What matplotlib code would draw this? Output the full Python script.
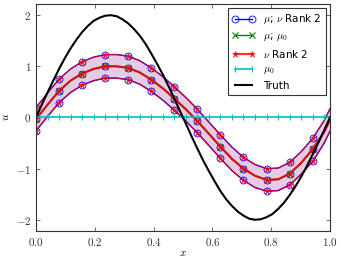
import numpy as np
import matplotlib
matplotlib.use('Agg')
import matplotlib.pyplot as plt

plt.rcParams['mathtext.fontset'] = 'cm'
plt.rcParams['font.family'] = 'DejaVu Sans'

# grid: every other point of a 52-point grid, plus the end point
x = np.append(np.arange(26) * 2 / 51, 1.0)
x_fine = np.linspace(0, 1, 52)

truth = [0.0, 0.25, 0.49, 0.72, 0.95, 1.16, 1.35, 1.52, 1.67, 1.79, 1.89, 1.95, 1.99,
         2.00, 1.98, 1.92, 1.84, 1.73, 1.60, 1.44, 1.25, 1.05, 0.84, 0.61, 0.37, 0.12,
         -0.12, -0.37, -0.61, -0.84, -1.05, -1.25, -1.44, -1.60, -1.73, -1.84, -1.92,
         -1.98, -2.00, -1.99, -1.95, -1.89, -1.79, -1.67, -1.52, -1.35, -1.16, -0.95,
         -0.72, -0.49, -0.25, 0.0]

mean = [-0.03, 0.25, 0.52, 0.72, 0.86, 0.95, 1.00, 1.00, 0.97, 0.88, 0.74, 0.57, 0.37,
        0.16, -0.07, -0.32, -0.57, -0.81, -1.00, -1.14, -1.22, -1.21, -1.10, -0.89,
        -0.62, -0.28, -0.05]

upper = [0.19, 0.48, 0.75, 0.95, 1.09, 1.18, 1.23, 1.23, 1.20, 1.11, 0.97, 0.80, 0.60,
         0.39, 0.16, -0.09, -0.34, -0.58, -0.78, -0.92, -1.00, -0.99, -0.88, -0.67,
         -0.41, -0.06, 0.17]

lower = [-0.26, 0.02, 0.29, 0.49, 0.63, 0.72, 0.77, 0.77, 0.74, 0.65, 0.51, 0.34, 0.14,
         -0.07, -0.30, -0.55, -0.80, -1.04, -1.23, -1.37, -1.44, -1.43, -1.32, -1.11,
         -0.86, -0.50, -0.27]

mu0 = [0.0] * 27

xticks = [0.0, 0.2, 0.4, 0.6, 0.8, 1.0]
yticks = [-2, -1, 0, 1, 2]

marks = list(range(0, 25, 2))

fig = plt.figure(figsize=(3.41, 2.64), dpi=100)
ax = fig.add_axes([0.1056, 0.125, 0.862, 0.86])

ax.fill_between(x, lower, upper, color='purple', alpha=0.2, lw=0)

# mu; nu rank 2
ax.plot(x, upper, 'b-', lw=1, marker='o', mfc='none', mec='b', ms=5, mew=0.6, markevery=marks,
        label=r'$\mu$; $\nu$ Rank 2')
ax.plot(x, lower, 'b-', lw=1, marker='o', mfc='none', mec='b', ms=5, mew=0.6, markevery=marks)
ax.plot(x, mean, 'b-', lw=1, marker='o', mfc='none', mec='b', ms=5, mew=0.6, markevery=marks)

# mu; mu0
ax.plot(x, mean, 'g-', lw=1, marker='x', ms=4, mew=0.8, markevery=marks, label=r'$\mu$; $\mu_0$')

# nu rank 2
ax.plot(x, mean, 'r-', lw=1.6, marker='*', ms=5, mew=0.4, alpha=0.8, markevery=marks,
        label=r'$\nu$ Rank 2')
ax.plot(x, upper, 'r-', lw=0.8, marker='*', ms=5, mew=0.4, alpha=0.8, markevery=marks)
ax.plot(x, lower, 'r-', lw=0.8, marker='*', ms=5, mew=0.4, alpha=0.8, markevery=marks)

ax.plot(x, mu0, 'c-', lw=1.2, marker='|', ms=5, mew=0.8, label=r'$\mu_0$')
ax.plot(x_fine, truth, 'k-', lw=1.5, label='Truth')

ax.set_xlim(0, 1)
ax.set_ylim(-2.22, 2.22)
ax.set_xticks(xticks)
ax.set_xticklabels([f'${v:.1f}$' for v in xticks])
ax.set_yticks(yticks)
ax.set_yticklabels([f'${v}$' for v in yticks])
ax.tick_params(direction='in', top=True, right=True, length=3, width=0.6,
               labelsize=8, colors='#555555', labelcolor='#333333')
for s in ax.spines.values():
    s.set_color('#333333')
    s.set_linewidth(0.8)

ax.set_xlabel(r'$x$', fontsize=8, labelpad=0)
ax.set_ylabel(r'$u$', fontsize=8, rotation=90)
ax.yaxis.set_label_coords(-0.085, 0.5)

leg = ax.legend(loc='upper right', fontsize=7.5, numpoints=2, handlelength=2.2,
                borderaxespad=0.4, labelspacing=0.45, fancybox=False, framealpha=1)
leg.get_frame().set_edgecolor('#333333')
leg.get_frame().set_linewidth(0.8)

fig.savefig('out.png', dpi=100)
